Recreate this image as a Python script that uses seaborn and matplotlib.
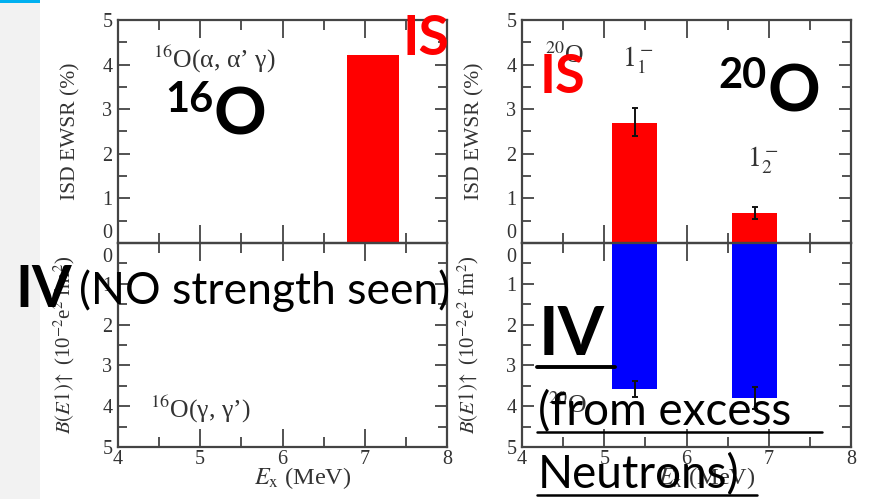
import matplotlib
matplotlib.use("Agg")
import matplotlib.pyplot as plt
from matplotlib.lines import Line2D
from matplotlib.patches import Rectangle
from matplotlib.transforms import ScaledTranslation
import numpy as np
import pandas as pd
import seaborn as sns

# ---- data ----------------------------------------------------------------
# 16O: isoscalar (alpha, alpha' gamma) and isovector (gamma, gamma') strength
is16_energy = [7.10]
is16_ewsr = [4.22]
iv16_energy = [5.45, 7.10]
iv16_be1 = [0.03, 0.03]

# 20O: the two 1- states
is20_energy = [5.37, 6.83]
is20_ewsr = [2.70, 0.68]
is20_err_lo = [0.30, 0.15]
is20_err_hi = [0.33, 0.12]
iv20_energy = [5.37, 6.83]
iv20_be1 = [3.58, 3.80]
iv20_err = [0.20, 0.27]

xticks = [4, 5, 6, 7, 8]
yticks = [0, 1, 2, 3, 4, 5]

# ---- style ---------------------------------------------------------------
sns.set_style("white")
plt.rcParams["font.family"] = ["Liberation Serif", "DejaVu Serif"]
plt.rcParams["mathtext.fontset"] = "stix"

W, H = 871, 499
fig = plt.figure(figsize=(W / 100, H / 100), dpi=100)
fig.patch.set_facecolor("white")


def fx(px):
    return px / W


def fy(py):
    return 1 - py / H


def box(x0, y0, x1, y1):
    return [fx(x0), fy(y1), (x1 - x0) / W, (y1 - y0) / H]


# slide decorations
fig.add_artist(Rectangle((0, 0), fx(40), 1, transform=fig.transFigure,
                         facecolor="#f2f2f2", edgecolor="none", zorder=0))
fig.add_artist(Rectangle((0, fy(3)), fx(40), 3 / H, transform=fig.transFigure,
                         facecolor="#00b0f0", edgecolor="none", zorder=0))

AX_COLOR = "#444444"
RED = "#ff0000"
BLUE = "#0000ff"

ax_lu = fig.add_axes(box(118, 20, 447, 243))
ax_ll = fig.add_axes(box(118, 243, 447, 447))
ax_ru = fig.add_axes(box(522, 20, 851, 243))
ax_rl = fig.add_axes(box(522, 243, 851, 447))


def bars(ax, xs, ys, color, bar_w):
    df = pd.DataFrame({"E": xs, "v": ys})
    uniq = np.unique(xs)
    native = np.min(np.diff(uniq)) if len(uniq) > 1 else 1.0
    sns.barplot(data=df, x="E", y="v", native_scale=True, orient="x",
                width=bar_w / native, color=color, saturation=1,
                errorbar=None, linewidth=0, ax=ax)


def style_axis(ax, upper):
    ax.set_xlim(4, 8)
    if upper:
        ax.set_ylim(0, 5)
    else:
        ax.set_ylim(5, 0)
    ax.set_xticks(xticks)
    ax.set_xticks(np.arange(4, 8.01, 0.5), minor=True)
    ax.set_yticks(yticks)
    ax.set_yticks(np.arange(0, 5.01, 0.5), minor=True)
    for s in ax.spines.values():
        s.set_visible(True)
        s.set_color(AX_COLOR)
        s.set_linewidth(1.6)
    ax.tick_params(axis="both", which="both", direction="in", top=True,
                   right=True, bottom=True, left=True, colors=AX_COLOR,
                   labelcolor="#333333", labelsize=14.5, width=1.3)
    ax.tick_params(axis="x", which="major", length=13)
    ax.tick_params(axis="x", which="minor", length=7)
    ax.tick_params(axis="y", which="major", length=8.5)
    ax.tick_params(axis="y", which="minor", length=6.5)
    ax.tick_params(axis="y", pad=4)
    ax.tick_params(axis="x", pad=2)
    if upper:
        ax.tick_params(axis="x", labelbottom=False)
    ax.set_xlabel("")
    ax.set_ylabel("")
    ax.set_facecolor("white")
    ax.patch.set_alpha(0)


for ax, xs, ys in [(ax_lu, is16_energy, is16_ewsr),
                   (ax_ru, is20_energy, is20_ewsr)]:
    bars(ax, xs, ys, RED, 0.63 if ax is ax_lu else 0.55)
for ax, xs, ys in [(ax_ll, iv16_energy, iv16_be1),
                   (ax_rl, iv20_energy, iv20_be1)]:
    bars(ax, xs, ys, BLUE, 0.63 if ax is ax_ll else 0.55)

ax_ru.errorbar(is20_energy, is20_ewsr, yerr=[is20_err_lo, is20_err_hi],
               fmt="none", ecolor="#111111", elinewidth=1.4, capsize=2,
               capthick=1.4, zorder=5)
ax_rl.errorbar(iv20_energy, iv20_be1, yerr=iv20_err, fmt="none",
               ecolor="#111111", elinewidth=1.4, capsize=2, capthick=1.4,
               zorder=5)

for ax in (ax_lu, ax_ru):
    style_axis(ax, True)
for ax in (ax_ll, ax_rl):
    style_axis(ax, False)

# keep the two zero labels at the panel junction apart
for ax, dy in [(ax_lu, 12), (ax_ru, 12), (ax_ll, -12), (ax_rl, -12)]:
    lab = ax.get_yticklabels()[0]
    lab.set_transform(lab.get_transform() + ScaledTranslation(0, dy / 100, fig.dpi_scale_trans))

# axis titles
TXT = "#333333"
for ax in (ax_lu, ax_ru):
    ax.set_ylabel("ISD EWSR (%)", fontsize=15.5, color=TXT)
    ax.yaxis.set_label_coords(-38 / 329, 0.5)
for ax in (ax_ll, ax_rl):
    ax.set_ylabel(r"$B(E1)\!\uparrow$ (10$^{-2}$e$^{2}$ fm$^{2}$)",
                  fontsize=15, color=TXT)
    ax.yaxis.set_label_coords(-41 / 329, 0.5)
for ax in (ax_ll, ax_rl):
    ax.set_xlabel(r"$E_{\rm x}$ (MeV)", fontsize=17.5, color=TXT)
    ax.xaxis.set_label_coords((303 - 118) / 329, -31 / 204)
    ax.xaxis.label.set_va("center")

# reaction annotations
ax_lu.text(0.106, 0.785, "$^{16}$O(α, α’ γ)", transform=ax_lu.transAxes,
           fontsize=18.5, color=TXT, va="baseline", ha="left")
ax_ll.text(0.097, 0.142, "$^{16}$O(γ, γ’)", transform=ax_ll.transAxes,
           fontsize=18.5, color=TXT, va="baseline", ha="left")
ax_ru.text(0.07, 0.807, "$^{20}$O", transform=ax_ru.transAxes,
           fontsize=18.5, color=TXT, va="baseline", ha="left")
ax_rl.text(0.08, 0.167, "$^{20}$O", transform=ax_rl.transAxes,
           fontsize=18.5, color=TXT, va="baseline", ha="left")
ax_ru.text(5.40, 3.95, r"$1_1^-$", fontsize=20, color=TXT,
           va="baseline", ha="center")
ax_ru.text(6.92, 1.70, r"$1_2^-$", fontsize=20, color=TXT,
           va="baseline", ha="center")

# ---- slide labels ----------------------------------------------------------
SANS = ["Lato", "DejaVu Sans"]


def slide_text(px, py, s, size, color="black", weight="normal"):
    fig.text(fx(px), fy(py), s, fontsize=size, color=color,
             fontweight=weight, family=SANS, ha="left", va="baseline",
             zorder=10)


def underline(x0, x1, py, lw):
    fig.add_artist(Line2D([fx(x0), fx(x1)], [fy(py), fy(py)],
                          transform=fig.transFigure, color="black",
                          linewidth=lw, zorder=10))


slide_text(402, 55, "IS", 40, RED, "bold")
slide_text(540, 93, "IS", 39, RED, "bold")

slide_text(165, 112, "16", 30, weight="bold")
slide_text(213, 135, "O", 47, weight="bold")
slide_text(718, 88, "20", 30, weight="bold")
slide_text(767, 112, "O", 47, weight="bold")

slide_text(15, 307, "IV", 41, weight="bold")
slide_text(79, 304, "(NO strength seen)", 32)

slide_text(539, 355, "IV", 48, weight="bold")
underline(537, 615, 367, 2.8)
slide_text(538, 425, "(from excess", 33)
underline(537, 822, 432, 1.8)
slide_text(538, 488, "Neutrons)", 33)
underline(537, 757, 495, 1.8)

fig.savefig("out.png", dpi=100)
